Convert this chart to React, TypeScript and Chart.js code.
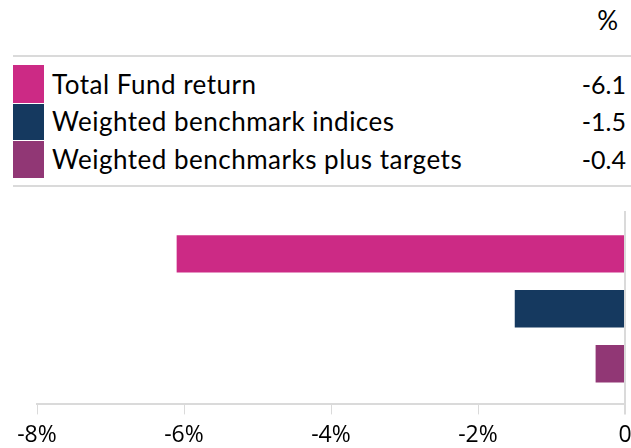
import React, { useEffect, useRef } from 'react';
import { Chart, registerables } from 'chart.js';

Chart.register(...registerables);

const categories = ['Total Fund return', 'Weighted benchmark indices', 'Weighted benchmarks plus targets'];
const values = [-6.1, -1.5, -0.4];
const valueLabels = ['-6.1', '-1.5', '-0.4'];
const colors = ['#CC2A85', '#15395F', '#913775'];
const xTicks = [-8, -6, -4, -2, 0];
const unitLabel = '%';

const LEG_FONT = 'Lato, "Noto Sans", sans-serif';
const AXIS_FONT = '"Open Sans", "Noto Sans", sans-serif';
const LINE = '#dadada';

export default function App() {
  const ref = useRef<HTMLCanvasElement | null>(null);

  useEffect(() => {
    if (!ref.current) return;
    const chart = new Chart(ref.current, {
      type: 'bar',
      data: {
        datasets: [
          {
            data: values.map((v, i) => ({ x: v, y: i })),
            backgroundColor: colors,
            borderWidth: 0,
            categoryPercentage: 1,
            barPercentage: 0.68,
          },
        ],
      },
      options: {
        indexAxis: 'y',
        responsive: false,
        animation: false,
        events: [],
        layout: { padding: { left: 37, right: 25, top: 11, bottom: 0 } },
        plugins: { legend: { display: false }, tooltip: { enabled: false } },
        scales: {
          x: {
            type: 'linear',
            min: xTicks[0],
            max: xTicks[xTicks.length - 1],
            afterBuildTicks: (s: any) => {
              s.ticks = xTicks.map((v) => ({ value: v }));
            },
            border: { display: true, color: LINE, width: 2 },
            grid: {
              display: true,
              drawOnChartArea: true,
              color: (c: any) => (c.tick && c.tick.value === 0 ? LINE : 'rgba(0,0,0,0)'),
              lineWidth: (c: any) => (c.tick && c.tick.value === 0 ? 2 : 1),
              tickColor: LINE,
              tickLength: 10,
            },
            ticks: {
              color: '#000',
              font: { family: AXIS_FONT, size: 23 },
              padding: 7,
              maxRotation: 0,
              autoSkip: false,
              callback: (v: any) => (Number(v) === 0 ? '0' : v + '%'),
            },
          },
          y: {
            type: 'linear',
            reverse: true,
            offset: false,
            min: -0.78,
            max: 2.74,
            display: false,
            grid: { offset: false },
            afterBuildTicks: (s: any) => {
              s.ticks = categories.map((_, i) => ({ value: i }));
            },
          },
        },
      },
    } as any);
    return () => chart.destroy();
  }, []);

  const rowH = 37.5;
  return (
    <div style={{ position: 'absolute', left: 0, top: 0, width: 631, height: 448, overflow: 'hidden', background: '#fff' }}>
      <div
        style={{
          position: 'absolute',
          right: 13,
          top: 5,
          fontFamily: LEG_FONT,
          fontSize: 26,
          lineHeight: '30px',
          color: '#000',
        }}
      >
        {unitLabel}
      </div>
      <div style={{ position: 'absolute', left: 13, right: 0, top: 55, height: 2, background: LINE }} />
      {categories.map((c, i) => (
        <div
          key={c}
          style={{
            position: 'absolute',
            left: 13,
            right: 0,
            top: 65 + i * rowH,
            height: rowH,
            display: 'flex',
            alignItems: 'center',
            fontFamily: LEG_FONT,
            fontSize: 26,
            letterSpacing: '0.5px',
            color: '#000',
          }}
        >
          <div style={{ position: 'absolute', left: 0, top: i === 0 ? 0 : 1, width: 31, bottom: 0, background: colors[i] }} />
          <div style={{ position: 'absolute', left: 39, whiteSpace: 'nowrap' }}>{c}</div>
          <div style={{ position: 'absolute', right: 5, whiteSpace: 'nowrap', letterSpacing: 0, fontSize: 25 }}>{valueLabels[i]}</div>
        </div>
      ))}
      <div style={{ position: 'absolute', left: 13, right: 0, top: 185, height: 2, background: LINE }} />
      <div style={{ position: 'absolute', left: 0, top: 200, width: 650, height: 256 }}>
        <canvas ref={ref} width={650} height={256} style={{ display: 'block' }} />
      </div>
    </div>
  );
}
